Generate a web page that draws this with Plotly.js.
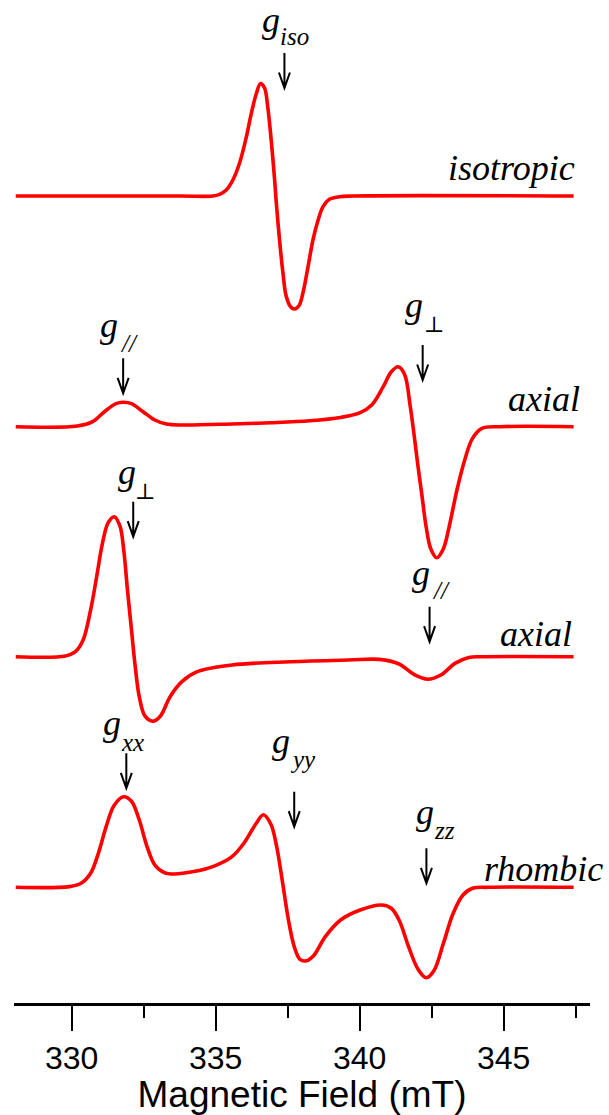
<!DOCTYPE html>
<html>
<head>
<meta charset="utf-8">
<script src="https://cdn.plot.ly/plotly-3.0.1.min.js"></script>
<style>
  html, body { margin: 0; padding: 0; background: #ffffff; }
  #chart { width: 609px; height: 1115px; }
</style>
</head>
<body>
<div id="chart"></div>
<script>
// First-derivative EPR spectra: field in mT, signal in arbitrary units (0 = baseline)
const fieldIso = [328.06, 333.75, 334.90, 335.14, 335.37, 335.60, 335.83, 336.07, 336.24, 336.42, 336.56,
  336.70, 336.81, 336.93, 337.05, 337.10, 337.22, 337.34, 337.45, 337.61, 337.74, 337.90, 338.03, 338.21,
  338.38, 338.56, 338.73, 338.95, 339.30, 339.77, 347.43];
const signalIso = [0, 0, 0, 1.7, 6, 16, 32.7, 59.3, 82.7, 103, 112.5, 108, 89.3, 56, 16, -4, -44, -77.3,
  -100, -111, -113, -109.5, -97.3, -70.7, -44, -24, -10.7, -3.3, -0.7, 0, 0];

const fieldAxialA = [328.06, 330.20, 330.73, 331.14, 331.54, 331.79, 332.08, 332.48, 332.89, 333.29, 333.83,
  335.57, 336.92, 338.27, 339.34, 340.02, 340.42, 340.82, 341.10, 341.34, 341.56, 341.76, 341.90, 342.03,
  342.17, 342.31, 342.47, 342.68, 342.91, 343.11, 343.38, 343.65, 343.92, 344.25, 344.86, 347.43];
const signalAxialA = [0, 0.7, 5, 15, 23, 24.5, 23, 15, 6.7, 2.7, 1.7, 2.7, 4, 6, 9.3, 14, 21.7, 40, 55,
  60, 52.5, 20, -10, -40, -70, -100, -122, -131, -122, -100, -63.3, -33.3, -11.7, -1.7, 0, 0];

const fieldAxialB = [328.06, 329.79, 330.13, 330.40, 330.66, 330.87, 331.07, 331.27, 331.48, 331.68, 331.81,
  331.94, 332.08, 332.21, 332.35, 332.55, 332.82, 333.08, 333.42, 333.83, 334.36, 335.57, 337.60, 339.61,
  340.69, 341.37, 341.90, 342.37, 342.84, 343.31, 343.79, 344.32, 347.43];
const signalAxialB = [0, 0.7, 5, 16.7, 46.7, 80, 113.3, 134, 140, 130.5, 106.7, 66.7, 26.7, -10, -40, -59.5,
  -64.5, -59.5, -40, -25, -15, -8.3, -5, -3.3, -2.7, -7.3, -18, -22.5, -18, -6.7, -0.7, 0, 0];

const fieldRhombic = [328.06, 329.93, 330.33, 330.66, 330.93, 331.20, 331.48, 331.81, 332.08, 332.35, 332.62,
  332.89, 333.22, 333.56, 334.24, 334.90, 335.57, 335.98, 336.39, 336.66, 336.92, 337.12, 337.33, 337.53,
  337.73, 337.93, 338.16, 338.40, 338.81, 339.34, 340.02, 340.76, 341.10, 341.37, 341.70, 342.03, 342.31,
  342.58, 342.91, 343.25, 343.59, 343.92, 344.46, 347.43];
const signalRhombic = [0, 0.7, 4, 14, 34, 60.7, 82, 90.5, 86, 67.3, 40.7, 22.3, 14.7, 13.3, 15.7, 20.7,
  30.7, 44, 63, 72.5, 63, 40.7, 4, -32.7, -59.3, -72, -73.5, -68.5, -49.3, -32.7, -22.7, -17.7, -21, -32.7,
  -59.3, -82, -90.5, -83.5, -56, -26, -7.7, -1, 0, 0];

// Spectrum names and the g-value positions (mT) marked on each spectrum
const spectrumNames = ['isotropic', 'axial', 'axial', 'rhombic'];
const gSubscripts = [['iso'], ['//', '⊥'], ['⊥', '//'], ['xx', 'yy', 'zz']];
const gFields = [[337.39], [331.79, 342.19], [332.14, 342.43], [331.90, 337.73, 342.32]];

// Field axis ticks
const xTickValues = [330, 335, 340, 345];
const xTickLabels = ['330', '335', '340', '345'];
const xMinorTickValues = [332.5, 337.5, 342.5, 347.5];

// ---- layout geometry ----
const W = 609, H = 1115;
const margin = { l: 14, r: 19, t: 0, b: 112, pad: 0 };
const plotH = H - margin.t - margin.b;
// baseline of each spectrum, in px from the top of the plot area (1 signal unit = 1 px)
const baselinePx = [196, 426.7, 656.7, 887.3];
// arrow tip height above baseline, label offsets [dx, baseline height above tip] for g and subscript
const markerGeom = [
  [{ tip: 108, g: [-4, 56], s: [-4, 43] }],
  [{ tip: 33.4, g: [-5, 56], s: [-3, 42] }, { tip: 46.7, g: [0, 63], s: [1, 48] }],
  [{ tip: 120, g: [3, 52], s: [2, 37] }, { tip: 15, g: [0, 56], s: [2, 43] }],
  [{ tip: 99, g: [-5, 53], s: [-5, 38] }, { tip: 60.6, g: [-4, 73], s: [-4, 59] }, { tip: 4, g: [8, 59], s: [8, 45] }]
];
// spectrum name: horizontal shift from the end of the trace, baseline height above spectrum baseline
const nameGeom = [{ dx: 1, by: 16 }, { dx: 6, by: 15 }, { dx: -2, by: 10 }, { dx: 29, by: 6 }];

const SERIF = 'Liberation Serif, Times New Roman, DejaVu Serif, serif';
const SANS = 'Liberation Sans, Arial, Helvetica, sans-serif';
const gSize = 36, subSize = 25, perpSize = 22, nameSize = 36;
const DESC = 0.216; // descent of the serif face, in em
const ARROW_LEN = 35;

const series = [
  [fieldIso, signalIso],
  [fieldAxialA, signalAxialA],
  [fieldAxialB, signalAxialB],
  [fieldRhombic, signalRhombic]
];

const traces = series.map(([x, y], i) => ({
  type: 'scatter', mode: 'lines', x: x, y: y,
  yaxis: i === 0 ? 'y' : 'y' + (i + 1),
  line: { color: '#ff0000', width: 3.6, shape: 'spline', smoothing: 1 },
  hoverinfo: 'skip', showlegend: false
}));

const layout = {
  width: W, height: H, margin: margin,
  paper_bgcolor: '#ffffff', plot_bgcolor: '#ffffff',
  showlegend: false,
  font: { family: SANS, color: '#000000' },
  xaxis: {
    range: [328, 348], showgrid: false, zeroline: false,
    showline: true, linecolor: '#000000', linewidth: 2.5,
    ticks: 'outside', ticklen: 25, tickwidth: 2, tickcolor: '#000000',
    tickmode: 'array', tickvals: xTickValues, ticktext: xTickLabels,
    tickfont: { family: SANS, size: 32, color: '#000000' },
    ticklabelstandoff: 0,
    minor: { tickmode: 'array', tickvals: xMinorTickValues, ticks: 'outside', ticklen: 12, tickwidth: 2, tickcolor: '#000000', showgrid: false },
    title: { text: 'Magnetic Field (mT)', font: { family: SANS, size: 37, color: '#000000' }, standoff: 8 },
    fixedrange: true
  },
  shapes: [],
  annotations: []
};

baselinePx.forEach((b, i) => {
  const key = i === 0 ? 'yaxis' : 'yaxis' + (i + 1);
  layout[key] = {
    domain: [0, 1], range: [b - plotH, b], visible: false, fixedrange: true,
    showgrid: false, zeroline: false
  };
  if (i > 0) layout[key].overlaying = 'y';
});

const yref = i => (i === 0 ? 'y' : 'y' + (i + 1));

gFields.forEach((fields, i) => {
  fields.forEach((gx, j) => {
    const geom = markerGeom[i][j];
    // downward arrow ending just above the line
    layout.shapes.push({
      type: 'path', xref: 'x', yref: yref(i),
      xsizemode: 'pixel', ysizemode: 'pixel', xanchor: gx, yanchor: geom.tip,
      path: 'M0,0L0,' + ARROW_LEN + 'M-5.5,15.5L0,0L5.5,15.5',
      line: { color: '#000000', width: 2 }
    });
    // "g" with its subscript
    layout.annotations.push({
      xref: 'x', yref: yref(i), x: gx, y: geom.tip, showarrow: false,
      text: '<i>g</i>', font: { family: SERIF, size: gSize, color: '#000000' },
      xanchor: 'right', yanchor: 'bottom', borderpad: 0, borderwidth: 0,
      xshift: geom.g[0], yshift: geom.g[1] - DESC * gSize
    });
    const sub = gSubscripts[i][j];
    const size = sub === '⊥' ? perpSize : subSize;
    layout.annotations.push({
      xref: 'x', yref: yref(i), x: gx, y: geom.tip, showarrow: false,
      text: sub === '⊥' ? sub : '<i>' + sub + '</i>',
      font: { family: SERIF, size: size, color: '#000000' },
      xanchor: 'left', yanchor: 'bottom', borderpad: 0, borderwidth: 0,
      xshift: geom.s[0], yshift: geom.s[1] - DESC * size
    });
  });
  // spectrum name at the right end of the trace
  const xs = series[i][0];
  layout.annotations.push({
    xref: 'x', yref: yref(i), x: xs[xs.length - 1], y: 0, showarrow: false,
    text: '<i>' + spectrumNames[i] + '</i>',
    font: { family: SERIF, size: nameSize, color: '#000000' },
    xanchor: 'right', yanchor: 'bottom', borderpad: 0, borderwidth: 0,
    xshift: nameGeom[i].dx, yshift: nameGeom[i].by - DESC * nameSize
  });
});

Plotly.newPlot('chart', traces, layout, { staticPlot: true, displayModeBar: false });
</script>
</body>
</html>
